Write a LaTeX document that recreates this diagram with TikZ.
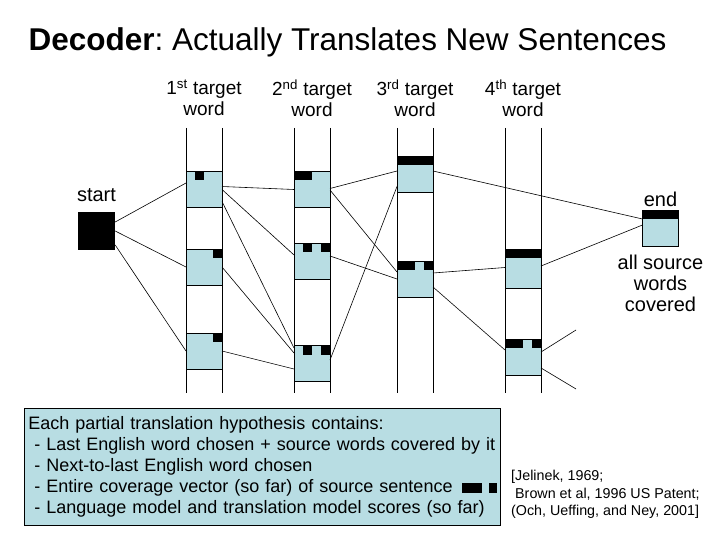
\documentclass[tikz,border=0pt]{standalone}
\usepackage{fontspec}
\setmainfont{Liberation Sans}
\usetikzlibrary{positioning}
\definecolor{hypblue}{RGB}{184,221,227}

\tikzset{
  hyp/.style={draw, fill=hypblue, minimum width=36pt, minimum height=36pt,
    inner sep=0pt, outer sep=0pt, line width=0.8pt},
  lbl/.style={font=\fontsize{19}{21}\selectfont, align=center, inner sep=0pt},
  link/.style={line width=0.6pt},
  col/.style={line width=0.9pt},
}
% black marks = source words covered so far (4 slots of 9pt)
\newcommand{\cover}[2]{\foreach \s in {#2}
  \fill ([xshift={(\s-1)*9pt}]#1.north west) rectangle ++(9,9);}

\begin{document}
\begin{tikzpicture}[x=1pt, y=-1pt]
    \useasboundingbox (0,0) rectangle (720,540);
    \node[anchor=west, font=\fontsize{31.5}{36}\selectfont] (title) at (25,42)
        {\textbf{Decoder}:\ Actually Translates New Sentences};

    % target word columns
    \foreach \x/\n/\ord in {204/1/st, 312/2/nd, 415/3/rd, 523/4/th} {
        \draw[col] (\x-18,128) -- +(0,265) (\x+18,128) -- +(0,265);
        \node[lbl] (head\n) at (\x,98) {\n\textsuperscript{\ord} target\\word};
    }

    \node[fill=black, minimum size=37pt, inner sep=0pt] (init) at (96.5,231) {};
    \node[lbl, font=\fontsize{20}{22}\selectfont] (startlbl) at (96.5,195) {start};

    \node[hyp] (w1a) at (204,189.5) {};
    \node[hyp] (w1b) at (204,267) {};
    \node[hyp] (w1c) at (204,351) {};
    \node[hyp] (w2a) at (312,189.5) {};
    \node[hyp] (w2b) at (312,261) {};
    \node[hyp] (w2c) at (312,363.5) {};
    \node[hyp] (w3a) at (415,174) {};
    \node[hyp] (w3b) at (415,279) {};
    \node[hyp, minimum height=39pt] (w4a) at (523,268.5) {};
    \node[hyp] (w4b) at (523,357) {};
    \node[hyp] (goal) at (660.5,228) {};
    \node[lbl, font=\fontsize{20}{22}\selectfont] (endlbl) at (660.5,199) {end};
    \node[lbl, font=\fontsize{20}{21}\selectfont] (goallbl) at (660.5,283)
        {all source\\words\\covered};

    \cover{w1a}{2} \cover{w1b}{4} \cover{w1c}{4}
    \cover{w2a}{1,2} \cover{w2b}{2,4} \cover{w2c}{2,4}
    \cover{w3a}{1,2,3,4} \cover{w3b}{1,2,4}
    \cover{w4a}{1,2,3,4} \cover{w4b}{1,2,4}
    \cover{goal}{1,2,3,4}

    \coordinate (out1) at (576,330);
    \coordinate (out2) at (576,389);

    \draw[link] ([yshift=9pt]init.east) -- ([yshift=6.5pt]w1a.west);
    \draw[link] (init.east) -- (w1b.west);
    \draw[link] ([yshift=-14pt]init.east) -- (w1c.west);
    \draw[link] ([yshift=3pt]w1a.east) -- (w2a.west);
    \draw[link] (w1a.east) -- ([yshift=6pt]w2b.west);
    \draw[link] ([yshift=-12pt]w1a.east) -- ([yshift=15.5pt]w2c.west);
    \draw[link] (w1b.east) -- ([yshift=10.5pt]w2c.west);
    \draw[link] (w1c.east) -- ([yshift=-5.5pt]w2c.west);
    \draw[link] ([yshift=1pt]w2a.east) -- ([yshift=3pt]w3a.west);
    \draw[link] ([yshift=-0.5pt]w2a.east) -- ([yshift=7pt]w3b.west);
    \draw[link] ([yshift=5pt]w2b.east) -- (w3b.west);
    \draw[link] ([yshift=3.5pt]w2c.east) -- ([yshift=-12.5pt]w3a.west);
    \draw[link] ([yshift=3pt]w3a.east) -- ([yshift=9pt]goal.west);
    \draw[link] ([yshift=6pt]w3b.east) -- ([yshift=1pt]w4a.west);
    \draw[link] ([yshift=-8pt]w3b.east) -- ([yshift=7pt]w4b.west);
    \draw[link] ([yshift=2.5pt]w4a.east) -- ([yshift=3pt]goal.west);
    \draw[link] ([yshift=5pt]w4b.east) -- (out1);
    \draw[link] ([yshift=-11pt]w4b.east) -- (out2);

    \node[draw, fill=hypblue, anchor=north west, minimum width=476pt,
        minimum height=117pt, inner sep=0pt, text width=468pt, align=left,
        line width=0.8pt, font=\fontsize{18}{21}\selectfont] (notes) at (24,408)
        {Each partial translation hypothesis contains:\\
        \hspace*{6pt}- Last English word chosen + source words covered by it\\
        \hspace*{6pt}- Next-to-last English word chosen\\
        \hspace*{6pt}- Entire coverage vector (so far) of source sentence\\
        \hspace*{6pt}- Language model and translation model scores (so far)};
    \fill (462,483) rectangle (482,493);
    \fill (489,483) rectangle (497,493);

    \node[anchor=west, align=left, inner sep=0pt,
        font=\fontsize{14.3}{17.5}\selectfont] (refs) at (511,494.5)
        {[Jelinek, 1969;\\\hspace*{4pt}Brown et al, 1996 US Patent;\\(Och, Ueffing, and Ney, 2001]};
\end{tikzpicture}
\end{document}
